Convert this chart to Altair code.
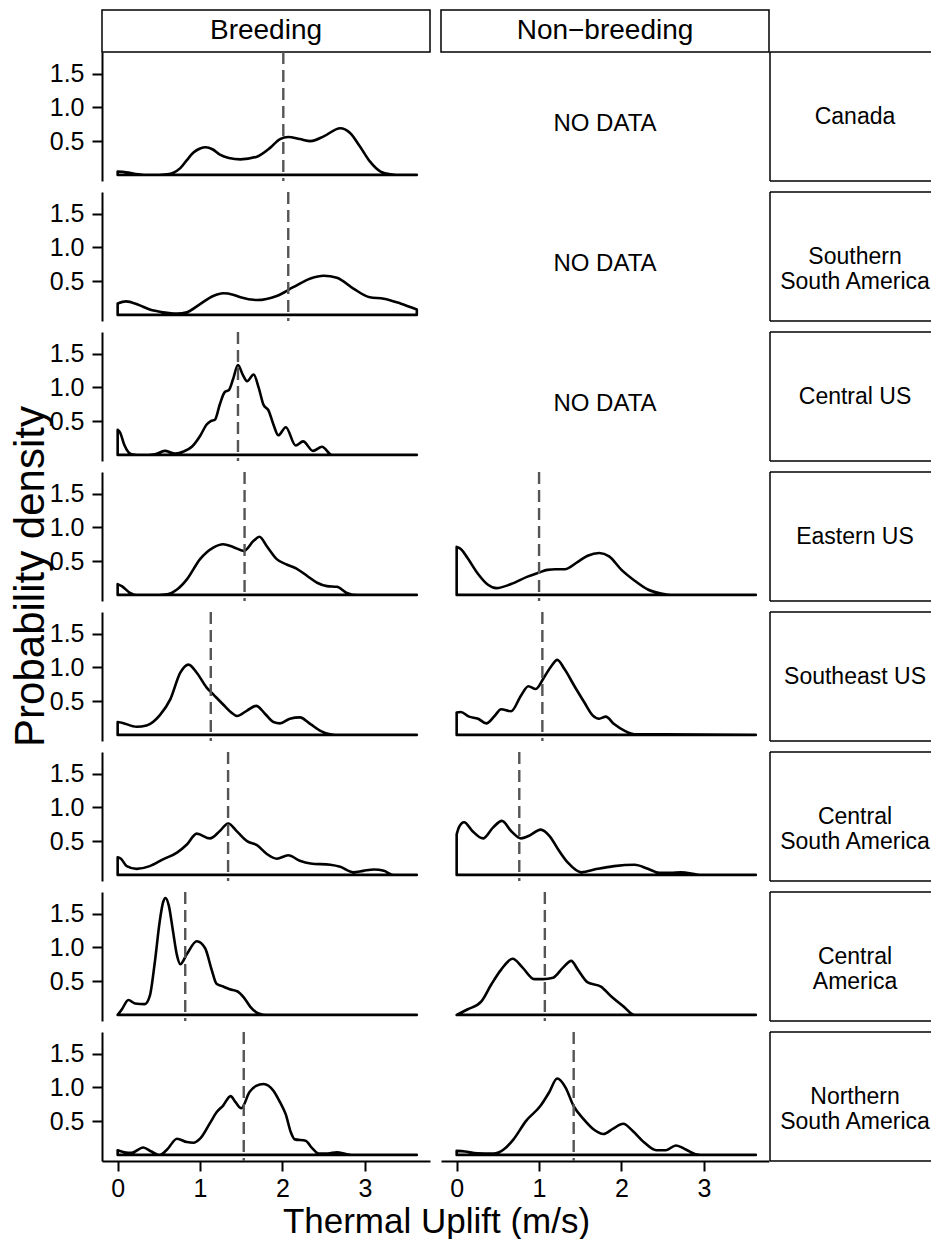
import altair as alt
import pandas as pd

# ---- thermal uplift density curves (x in m/s, y = probability density) ----
regions = [
    "Canada",
    "Southern\nSouth America",
    "Central US",
    "Eastern US",
    "Southeast US",
    "Central\nSouth America",
    "Central\nAmerica",
    "Northern\nSouth America",
]
seasons = ["Breeding", "Non\u2212breeding"]

canada_breeding_x = [0, 0.1, 0.25, 0.4, 0.6, 0.76, 0.84, 0.92, 1.0, 1.07, 1.15, 1.24, 1.35, 1.49,
                     1.69, 1.85, 1.97, 2.07, 2.21, 2.34, 2.5, 2.7, 2.82, 2.94, 3.06, 3.19, 3.31, 3.45, 3.63]
canada_breeding_y = [0.05, 0.04, 0.01, 0.0, 0.01, 0.10, 0.22, 0.33, 0.39, 0.41, 0.38, 0.30, 0.25, 0.23,
                     0.27, 0.40, 0.53, 0.56, 0.53, 0.50, 0.57, 0.69, 0.62, 0.42, 0.20, 0.05, 0.01, 0.0, 0.0]

ssa_breeding_x = [0, 0.1, 0.25, 0.39, 0.55, 0.72, 0.84, 1.0, 1.16, 1.28, 1.4, 1.49, 1.69, 1.93,
                  2.13, 2.34, 2.5, 2.66, 2.86, 3.06, 3.23, 3.43, 3.63]
ssa_breeding_y = [0.17, 0.20, 0.15, 0.08, 0.04, 0.02, 0.04, 0.16, 0.28, 0.32, 0.30, 0.26, 0.22, 0.28,
                  0.41, 0.54, 0.58, 0.55, 0.39, 0.26, 0.24, 0.17, 0.08]

cus_breeding_x = [0, 0.03, 0.08, 0.17, 0.3, 0.45, 0.57, 0.7, 0.8, 0.9, 1.0, 1.08, 1.13, 1.18, 1.24,
                  1.3, 1.35, 1.40, 1.46, 1.52, 1.57, 1.65, 1.71, 1.77, 1.83, 1.89, 1.95, 2.04, 2.16,
                  2.25, 2.37, 2.48, 2.6, 3.63]
cus_breeding_y = [0.37, 0.33, 0.15, 0.01, 0.0, 0.01, 0.06, 0.02, 0.05, 0.12, 0.28, 0.45, 0.50, 0.52, 0.75,
                  0.93, 0.96, 1.12, 1.33, 1.18, 1.09, 1.19, 1.0, 0.74, 0.66, 0.45, 0.29, 0.41, 0.14,
                  0.20, 0.06, 0.12, 0.0, 0.0]

eus_breeding_x = [0, 0.05, 0.15, 0.23, 0.4, 0.6, 0.72, 0.84, 1.0, 1.16, 1.28, 1.4, 1.53, 1.65, 1.72,
                  1.81, 1.93, 2.05, 2.17, 2.3, 2.42, 2.54, 2.66, 2.78, 2.9, 3.63]
eus_breeding_y = [0.16, 0.13, 0.03, 0.0, 0.0, 0.01, 0.08, 0.23, 0.53, 0.70, 0.75, 0.71, 0.65, 0.80, 0.86,
                  0.72, 0.53, 0.45, 0.39, 0.28, 0.18, 0.13, 0.12, 0.03, 0.0, 0.0]

seus_breeding_x = [0, 0.05, 0.23, 0.35, 0.51, 0.64, 0.76, 0.86, 0.96, 1.08, 1.16, 1.28, 1.38, 1.45,
                   1.57, 1.68, 1.79, 1.89, 1.97, 2.09, 2.21, 2.34, 2.46, 2.58, 2.7, 3.63]
seus_breeding_y = [0.19, 0.18, 0.12, 0.14, 0.29, 0.53, 0.92, 1.04, 0.92, 0.70, 0.60, 0.45, 0.33, 0.28,
                   0.36, 0.43, 0.31, 0.19, 0.17, 0.24, 0.26, 0.16, 0.06, 0.01, 0.0, 0.0]

csa_breeding_x = [0, 0.04, 0.11, 0.23, 0.39, 0.55, 0.72, 0.84, 0.96, 1.12, 1.24, 1.34, 1.45, 1.57,
                  1.69, 1.81, 1.93, 2.07, 2.21, 2.34, 2.58, 2.7, 2.86, 2.98, 3.11, 3.23, 3.35, 3.63]
csa_breeding_y = [0.26, 0.24, 0.13, 0.09, 0.13, 0.23, 0.33, 0.45, 0.61, 0.54, 0.65, 0.76, 0.64, 0.50,
                  0.44, 0.31, 0.24, 0.29, 0.21, 0.17, 0.15, 0.12, 0.04, 0.06, 0.08, 0.06, 0.0, 0.0]

cam_breeding_x = [0, 0.05, 0.13, 0.21, 0.33, 0.39, 0.45, 0.51, 0.55, 0.58, 0.62, 0.67, 0.72, 0.76,
                  0.84, 0.96, 1.06, 1.14, 1.2, 1.28, 1.36, 1.45, 1.53, 1.61, 1.71, 1.8, 3.63]
cam_breeding_y = [0.0, 0.08, 0.22, 0.17, 0.16, 0.28, 0.77, 1.38, 1.66, 1.73, 1.62, 1.25, 0.88, 0.75,
                  0.90, 1.09, 0.99, 0.67, 0.46, 0.42, 0.38, 0.35, 0.26, 0.12, 0.02, 0.0, 0.0]

nsa_breeding_x = [0, 0.08, 0.17, 0.31, 0.41, 0.51, 0.6, 0.72, 0.84, 0.92, 1.0, 1.12, 1.2, 1.28, 1.37,
                  1.43, 1.5, 1.6, 1.68, 1.77, 1.89, 1.97, 2.04, 2.1, 2.15, 2.28, 2.36, 2.44, 2.55,
                  2.66, 2.78, 2.9, 3.63]
nsa_breeding_y = [0.07, 0.04, 0.03, 0.11, 0.05, 0.0, 0.08, 0.24, 0.19, 0.18, 0.24, 0.47, 0.63, 0.73, 0.87,
                  0.78, 0.69, 0.93, 1.02, 1.05, 0.95, 0.78, 0.60, 0.34, 0.23, 0.21, 0.10, 0.02, 0.02,
                  0.04, 0.01, 0.0, 0.0]

eus_nonbreeding_x = [0, 0.05, 0.13, 0.26, 0.38, 0.48, 0.66, 0.86, 1.0, 1.1, 1.2, 1.31, 1.47, 1.59,
                     1.73, 1.85, 2.0, 2.16, 2.32, 2.48, 2.6, 3.63]
eus_nonbreeding_y = [0.71, 0.68, 0.55, 0.31, 0.15, 0.10, 0.16, 0.27, 0.33, 0.37, 0.38, 0.38, 0.49, 0.58,
                     0.62, 0.57, 0.37, 0.21, 0.08, 0.02, 0.0, 0.0]

seus_nonbreeding_x = [0, 0.05, 0.15, 0.26, 0.36, 0.46, 0.54, 0.66, 0.78, 0.87, 0.96, 1.06, 1.15, 1.22,
                      1.31, 1.43, 1.55, 1.65, 1.73, 1.81, 1.91, 2.04, 2.16, 2.5, 3.63]
seus_nonbreeding_y = [0.33, 0.34, 0.27, 0.24, 0.17, 0.28, 0.38, 0.35, 0.58, 0.72, 0.68, 0.85, 1.02, 1.11,
                      0.97, 0.72, 0.48, 0.29, 0.24, 0.27, 0.16, 0.06, 0.01, 0.01, 0.0]

csa_nonbreeding_x = [0, 0.03, 0.09, 0.19, 0.32, 0.44, 0.55, 0.66, 0.78, 0.88, 1.02, 1.13, 1.23, 1.35,
                     1.51, 1.71, 1.91, 2.16, 2.32, 2.46, 2.6, 2.72, 2.97, 3.63]
csa_nonbreeding_y = [0.60, 0.71, 0.78, 0.65, 0.54, 0.70, 0.80, 0.65, 0.54, 0.58, 0.67, 0.57, 0.38, 0.18,
                     0.04, 0.09, 0.13, 0.15, 0.09, 0.03, 0.03, 0.04, 0.0, 0.0]

cam_nonbreeding_x = [0, 0.13, 0.3, 0.42, 0.54, 0.68, 0.8, 0.94, 1.05, 1.17, 1.29, 1.39, 1.47, 1.59,
                     1.75, 1.87, 2.02, 2.16, 3.63]
cam_nonbreeding_y = [0.0, 0.08, 0.20, 0.45, 0.67, 0.83, 0.70, 0.53, 0.53, 0.55, 0.70, 0.80, 0.67, 0.48,
                     0.42, 0.28, 0.13, 0.0, 0.0]

nsa_nonbreeding_x = [0, 0.1, 0.25, 0.45, 0.57, 0.69, 0.84, 1.02, 1.12, 1.22, 1.32, 1.42, 1.54, 1.66,
                     1.78, 1.9, 2.02, 2.14, 2.28, 2.42, 2.54, 2.66, 2.78, 2.9, 3.02, 3.63]
nsa_nonbreeding_y = [0.06, 0.05, 0.025, 0.02, 0.08, 0.23, 0.50, 0.73, 0.92, 1.13, 1.0, 0.72, 0.53, 0.38,
                     0.31, 0.39, 0.46, 0.35, 0.18, 0.07, 0.07, 0.14, 0.08, 0.01, 0.0, 0.0]

# mean thermal uplift per region (dashed lines); None = no data for that season
breeding_means = [2.01, 2.07, 1.46, 1.54, 1.13, 1.34, 0.82, 1.53]
nonbreeding_means = [None, None, None, 1.00, 1.04, 0.76, 1.07, 1.42]

breeding_curves = [
    (canada_breeding_x, canada_breeding_y),
    (ssa_breeding_x, ssa_breeding_y),
    (cus_breeding_x, cus_breeding_y),
    (eus_breeding_x, eus_breeding_y),
    (seus_breeding_x, seus_breeding_y),
    (csa_breeding_x, csa_breeding_y),
    (cam_breeding_x, cam_breeding_y),
    (nsa_breeding_x, nsa_breeding_y),
]
nonbreeding_curves = [
    None, None, None,
    (eus_nonbreeding_x, eus_nonbreeding_y),
    (seus_nonbreeding_x, seus_nonbreeding_y),
    (csa_nonbreeding_x, csa_nonbreeding_y),
    (cam_nonbreeding_x, cam_nonbreeding_y),
    (nsa_nonbreeding_x, nsa_nonbreeding_y),
]

# ---- layout constants ----
FONT = "Liberation Sans"
W, H = 328, 129          # panel size
STRIP_W = 152            # right-hand region strip (runs off the page edge)
HEADER_H = 31
GAP = 11
X_DOMAIN = [-0.19, 3.79]
Y_DOMAIN = [-0.09, 1.818]
x_scale = alt.Scale(domain=X_DOMAIN, nice=False, zero=False)
y_scale = alt.Scale(domain=Y_DOMAIN, nice=False, zero=False)


def x_axis(with_title):
    kw = dict(values=[0, 1, 2, 3], format="d", labelPadding=5)
    if with_title:
        kw.update(title="Thermal Uplift (m/s)", titleX=334, titleY=71,
                  titleAlign="center", titleBaseline="alphabetic", titleFontSize=35)
    else:
        kw.update(title=None)
    return alt.Axis(**kw)


def y_axis(with_title):
    kw = dict(values=[0.5, 1.0, 1.5], format=".1f", labelPadding=8)
    if with_title:
        kw.update(title="Probability density", titleX=-72, titleY=104, titleAngle=270,
                  titleAlign="center", titleBaseline="middle", titleFontSize=42)
    else:
        kw.update(title=None)
    return alt.Axis(**kw)


def panel(r, s):
    last_row = r == len(regions) - 1
    xa = x_axis(s == 0) if last_row else None
    ya = y_axis(r == 3) if s == 0 else None
    X = alt.X("x:Q", scale=x_scale, axis=xa)
    Y = alt.Y("y:Q", scale=y_scale, axis=ya, stack=False)

    curve = breeding_curves[r] if s == 0 else nonbreeding_curves[r]
    mean = breeding_means[r] if s == 0 else nonbreeding_means[r]
    if curve is None:
        note = pd.DataFrame({"x": [1.8], "y": [0.75], "label": ["NO DATA"]})
        layer = alt.Chart(note).mark_text(font=FONT, fontSize=24, color="black").encode(
            x=X, y=Y, text="label:N")
    else:
        df = pd.DataFrame({"x": curve[0], "y": curve[1]})
        area = alt.Chart(df).mark_area(
            interpolate="monotone", orient="vertical", fillOpacity=0,
            stroke="black", strokeWidth=2.6, strokeJoin="round",
        ).encode(x=X, y=Y)
        rule = alt.Chart(pd.DataFrame({"x": [mean]})).mark_rule(
            color="#555555", strokeWidth=2.4, strokeDash=[12, 6]
        ).encode(x=X)
        layer = alt.layer(area, rule)
    return layer.properties(width=W, height=H)


def header(label, anchor=False):
    d = pd.DataFrame({"label": [label]})
    box = alt.Chart(d).mark_rect(fill="white", stroke="black", strokeWidth=1.5).encode(
        x=alt.value(0), x2=alt.value(W), y=alt.value(0), y2=alt.value(HEADER_H + GAP))
    txt = alt.Chart(d).mark_text(font=FONT, fontSize=28, color="black", baseline="middle").encode(
        x=alt.value(W / 2), y=alt.value((HEADER_H + GAP) / 2), text="label:N")
    layers = [box, txt]
    if anchor:
        # white sliver that fixes the left edge of the page layout
        layers.append(alt.Chart(d).mark_rect(fill="white").encode(
            x=alt.value(-102), x2=alt.value(-101), y=alt.value(1), y2=alt.value(2)))
    return alt.layer(*layers).properties(width=W, height=HEADER_H)


def blank_header():
    d = pd.DataFrame({"label": [""]})
    return alt.Chart(d).mark_rect(fill="white").encode(
        x=alt.value(0), x2=alt.value(STRIP_W), y=alt.value(1), y2=alt.value(HEADER_H)
    ).properties(width=STRIP_W, height=HEADER_H)


def strip(label):
    d = pd.DataFrame({"label": [label]})
    left = -(GAP - 1)
    rule = dict(color="black", strokeWidth=1.5)
    top = alt.Chart(d).mark_rule(**rule).encode(
        x=alt.value(left), x2=alt.value(STRIP_W - 1), y=alt.value(0))
    bottom = alt.Chart(d).mark_rule(**rule).encode(
        x=alt.value(left), x2=alt.value(STRIP_W - 1), y=alt.value(H))
    side = alt.Chart(d).mark_rule(**rule).encode(
        x=alt.value(left), y=alt.value(0), y2=alt.value(H))
    txt = alt.Chart(d).mark_text(
        font=FONT, fontSize=23, color="black", lineBreak="\n", lineHeight=25,
        baseline="middle", align="center",
    ).encode(x=alt.value(75), y=alt.value(H / 2), text="label:N")
    return alt.layer(top, bottom, side, txt).properties(width=STRIP_W, height=H)


cells = [header(seasons[0], anchor=True), header(seasons[1]), blank_header()]
for r in range(len(regions)):
    cells += [panel(r, 0), panel(r, 1), strip(regions[r])]

chart = alt.concat(
    *cells, columns=3, spacing=GAP, bounds="flush", align="each"
).properties(
    padding={"left": 0, "top": 9, "right": 0, "bottom": 0},
    background="white",
).configure_view(
    strokeWidth=0
).configure_axis(
    grid=False,
    domainColor="black", domainWidth=2,
    tickColor="black", tickWidth=2, tickSize=10,
    labelFont=FONT, labelFontSize=25, labelColor="black",
    titleFont=FONT, titleFontWeight="normal", titleColor="black",
)

chart.save("out.html", embed_options={"renderer": "svg", "actions": False})
